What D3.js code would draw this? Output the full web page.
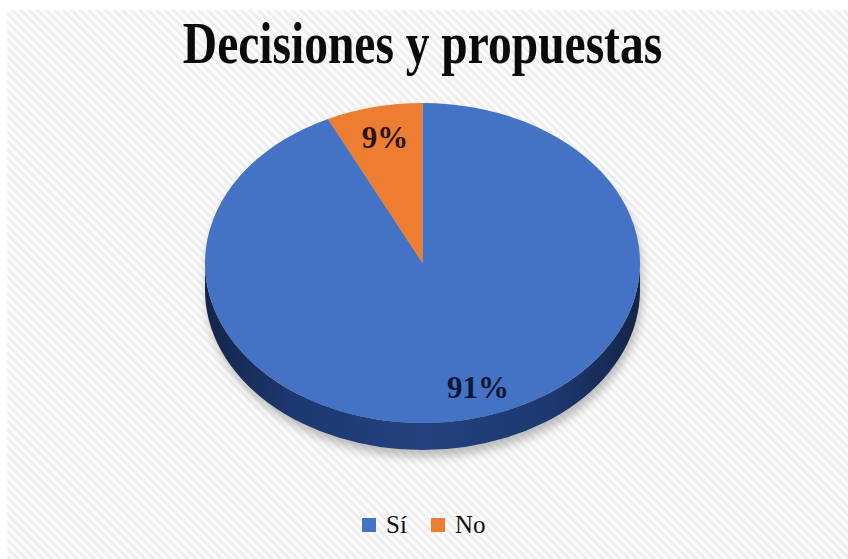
<!DOCTYPE html>
<html>
<head>
<meta charset="utf-8">
<script src="https://cdn.jsdelivr.net/npm/d3@7"></script>
<style>
  html, body { margin: 0; padding: 0; background: #ffffff; }
  svg { display: block; }
</style>
</head>
<body>
<svg id="chart" width="848" height="559"></svg>
<script>
// ---- data ----
const title = "Decisiones y propuestas";
const categories = ["Sí", "No"];
const values = [91, 9];
const labels = ["91%", "9%"];
const colors = ["#4472C4", "#ED7D31"];

// ---- layout ----
const W = 848, H = 559;
const cx = 422.5, cy = 263, rx = 217.5, ry = 160, depth = 27;
const persp = 0.76;   // perspective squeeze of angles
const labelR = 0.8;

const svg = d3.select("#chart");
const defs = svg.append("defs");

// background stripes
const pat = defs.append("pattern")
  .attr("id", "stripes").attr("patternUnits", "userSpaceOnUse")
  .attr("width", 6).attr("height", 6)
  .attr("patternTransform", "rotate(-45)");
pat.append("rect").attr("width", 6).attr("height", 6).attr("fill", "#fcfcfc");
pat.append("rect").attr("width", 3).attr("height", 6).attr("fill", "#efefef");

svg.append("rect").attr("width", W).attr("height", H).attr("fill", "#ffffff");
svg.append("rect").attr("x", 7).attr("y", 10).attr("width", W - 7).attr("height", H - 10)
  .attr("fill", "url(#stripes)");

// side gradient
const sg = defs.append("linearGradient").attr("id", "sideGrad")
  .attr("gradientUnits", "userSpaceOnUse")
  .attr("x1", cx - rx).attr("x2", cx + rx).attr("y1", 0).attr("y2", 0);
[[0, "#132548"], [0.2, "#1d3870"], [0.5, "#23427f"], [0.8, "#1d3870"], [1, "#132548"]]
  .forEach(([o, c]) => sg.append("stop").attr("offset", o).attr("stop-color", c));

// shadow filter
const f = defs.append("filter").attr("id", "shadow")
  .attr("x", "-20%").attr("y", "-20%").attr("width", "140%").attr("height", "140%");
f.append("feGaussianBlur").attr("stdDeviation", 5);

// ---- geometry helpers ----
const proj = a => Math.atan2(persp * Math.sin(a), Math.cos(a)); // true angle -> ellipse param
const norm = t => { let v = t % (2 * Math.PI); if (v < 0) v += 2 * Math.PI; return v; };
const P = (t, dy = 0) => [cx + rx * Math.sin(t), cy - ry * Math.cos(t) + dy];

const pie = d3.pie().sort(null).value(d => d)(values);

// shadow
svg.append("path")
  .attr("d", `M${cx - rx},${cy + 6} A${rx},${ry} 0 1,1 ${cx + rx},${cy + 6} L${cx + rx},${cy + depth + 4} A${rx},${ry} 0 1,1 ${cx - rx},${cy + depth + 4} Z`)
  .attr("fill", "#8a8a8a").attr("opacity", 0.55)
  .attr("transform", "translate(2,3)")
  .attr("filter", "url(#shadow)");

// sides (front half only: param between PI/2 and 3PI/2)
pie.forEach((s, i) => {
  let t0 = norm(proj(s.startAngle));
  let t1 = norm(proj(s.endAngle));
  if (s.endAngle - s.startAngle >= 2 * Math.PI - 1e-9) { t0 = 0; t1 = 2 * Math.PI; }
  if (t1 <= t0) t1 += 2 * Math.PI;
  const a = Math.max(t0, Math.PI / 2), b = Math.min(t1, 3 * Math.PI / 2);
  if (b > a) {
    const p0 = P(a), p1 = P(b), q1 = P(b, depth), q0 = P(a, depth);
    const large = (b - a) > Math.PI ? 1 : 0;
    svg.append("path")
      .attr("d", `M${p0} A${rx},${ry} 0 ${large},1 ${p1} L${q1} A${rx},${ry} 0 ${large},0 ${q0} Z`)
      .attr("fill", i === 0 ? "url(#sideGrad)" : d3.color(colors[i]).darker(1.2));
  }
});

// top faces
pie.forEach((s, i) => {
  const t0 = proj(s.startAngle);
  let t1 = proj(s.endAngle);
  let span = norm(t1 - t0);
  if (span === 0 && s.endAngle > s.startAngle) span = 2 * Math.PI;
  const p0 = P(t0), p1 = P(t0 + span);
  const large = span > Math.PI ? 1 : 0;
  svg.append("path")
    .attr("d", `M${cx},${cy} L${p0} A${rx},${ry} 0 ${large},1 ${p1} Z`)
    .attr("fill", colors[i]);
});

// labels
pie.forEach((s, i) => {
  const mid = proj((s.startAngle + s.endAngle) / 2);
  const x = cx + labelR * rx * Math.sin(mid) + (i === 0 ? 18 : 0);
  const y = cy - labelR * ry * Math.cos(mid);
  svg.append("text")
    .attr("x", x).attr("y", y + 10)
    .attr("text-anchor", "middle")
    .attr("font-family", "'Liberation Serif', 'Times New Roman', serif")
    .attr("font-weight", "bold").attr("font-size", 31)
    .attr("fill", i === 0 ? "#0b1630" : "#2a1204")
    .text(labels[i]);
});

// title
svg.append("text")
  .attr("transform", `translate(${cx},63) scale(1,1.25)`)
  .attr("text-anchor", "middle")
  .attr("font-family", "'Liberation Serif', 'Times New Roman', serif")
  .attr("font-weight", "bold").attr("font-size", 47.5)
  .attr("fill", "#0a0a0a")
  .text(title);

// legend
const legendX = [362, 431];
const lg = svg.append("g");
categories.forEach((c, i) => {
  lg.append("rect").attr("x", legendX[i]).attr("y", 518).attr("width", 14).attr("height", 14)
    .attr("fill", colors[i]);
  lg.append("text").attr("x", legendX[i] + 24).attr("y", 533)
    .attr("font-family", "'Liberation Serif', 'Times New Roman', serif")
    .attr("font-size", 25).attr("fill", "#111")
    .text(c);
});
</script>
</body>
</html>
